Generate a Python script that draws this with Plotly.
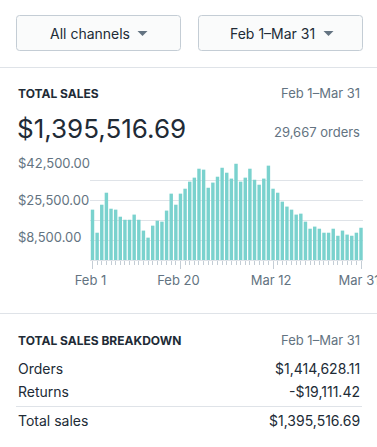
import pandas as pd
import plotly.graph_objects as go

W, H = 377, 447

# ---- data ----
dates = pd.date_range("2017-02-01", "2017-03-31", freq="D")
sales = [21400, 11600, 23500, 28600, 21800, 21400, 18400, 17100, 17100, 19300,
         17100, 12500, 9500, 14600, 16700, 16300, 21000, 28200, 23500, 28200,
         30300, 33300, 35000, 38800, 38400, 30700, 32900, 35400, 39200, 37100,
         34600, 40900, 33300, 35000, 38800, 34100, 32000, 34600, 40100, 30300,
         28600, 24800, 22700, 21400, 19300, 19700, 16300, 13300, 14200, 13300,
         11600, 11600, 13300, 10300, 12500, 10800, 10300, 11600, 13700]
grid_vals = [0, 8500, 17000, 25500, 34000, 42500]
ylabel_vals = [8500, 25500, 42500]
ylabel_text = ["$8,500.00", "$25,500.00", "$42,500.00"]
xtick_vals = ["2017-02-01", "2017-02-20", "2017-03-12", "2017-03-31"]
xtick_text = ["Feb 1", "Feb 20", "Mar 12", "Mar 31"]
channel_label = "All channels"
period_label = "Feb 1–Mar 31"
total_sales = "$1,395,516.69"
order_count = "29,667 orders"
breakdown_rows = ["Orders", "Returns", "Total sales"]
breakdown_vals = ["$1,414,628.11", "-$19,111.42", "$1,395,516.69"]

DARK = "#212b36"
GRAY = "#637381"
LINE = "#dfe3e8"
BORDER = "#c4cdd5"
BAR = "#7ad2ce"
FONT = "Inter"


def X(px):
    return px / W


def Y(py):
    return 1 - py / H


fig = go.Figure()
fig.add_trace(go.Bar(
    x=dates, y=sales, marker_color=BAR, marker_line_width=0,
    width=0.74 * 86400000, hoverinfo="skip"))

fig.update_layout(
    width=W, height=H,
    margin=dict(l=0, r=0, t=0, b=0, pad=0, autoexpand=False),
    paper_bgcolor="white", plot_bgcolor="white", showlegend=False,
    font=dict(family=FONT, color=DARK),
    xaxis=dict(
        domain=[X(90), X(363)], type="date",
        range=["2017-01-31 11:00", "2017-03-31 10:20"],
        tickvals=xtick_vals, ticktext=xtick_text,
        ticks="outside", ticklen=8, tickcolor=BORDER, tickwidth=1,
        tickfont=dict(family=FONT, size=13, color=GRAY),
        ticklabeloverflow="allow", ticklabelshift=-2, automargin=False,
        minor=dict(ticks="outside", ticklen=4, tickcolor=BORDER,
                   dtick=86400000, tick0="2017-02-01", showgrid=False),
        showgrid=False, zeroline=False, showline=False, fixedrange=True),
    yaxis=dict(
        domain=[Y(260), Y(160)], range=[0, 42500],
        tickvals=grid_vals, showticklabels=False, automargin=False,
        gridcolor=LINE, gridwidth=1, zeroline=True, zerolinecolor=LINE,
        zerolinewidth=1, showline=False, fixedrange=True),
)

shapes = []


def rrect(x0, y0, x1, y1, r):
    pts = [
        f"M{X(x0 + r)},{Y(y0)}", f"L{X(x1 - r)},{Y(y0)}",
        f"Q{X(x1)},{Y(y0)} {X(x1)},{Y(y0 + r)}", f"L{X(x1)},{Y(y1 - r)}",
        f"Q{X(x1)},{Y(y1)} {X(x1 - r)},{Y(y1)}", f"L{X(x0 + r)},{Y(y1)}",
        f"Q{X(x0)},{Y(y1)} {X(x0)},{Y(y1 - r)}", f"L{X(x0)},{Y(y0 + r)}",
        f"Q{X(x0)},{Y(y0)} {X(x0 + r)},{Y(y0)}", "Z"]
    return " ".join(pts)


for bx0, bx1 in [(16.5, 180.5), (198.5, 362.5)]:
    shapes.append(dict(type="path", xref="paper", yref="paper",
                       path=rrect(bx0, 15.5, bx1, 50.5, 3),
                       fillcolor="#fafbfb", line=dict(color=BORDER, width=1)))

for ax in [142.5, 328.5]:
    shapes.append(dict(type="path", xref="paper", yref="paper",
                       path=f"M{X(ax - 5)},{Y(31)} L{X(ax + 5)},{Y(31)} L{X(ax)},{Y(36)} Z",
                       fillcolor=GRAY, line=dict(width=0)))

for (lx0, lx1, ly) in [(0, W, 67.5), (0, W, 313.5), (16, 362, 406.5)]:
    shapes.append(dict(type="line", xref="paper", yref="paper",
                       x0=X(lx0), x1=X(lx1), y0=Y(ly), y1=Y(ly),
                       line=dict(color=LINE, width=1)))

fig.update_layout(shapes=shapes)

ann = []


def text(t, x, y, size, color=DARK, anchor="left", bold=False):
    ann.append(dict(text=f"<b>{t}</b>" if bold else t, x=X(x), y=Y(y),
                    xref="paper", yref="paper", xanchor=anchor, yanchor="middle",
                    showarrow=False,
                    font=dict(family=FONT, size=size, color=color)))


text(channel_label, 89.5, 33, 14, DARK, "center")
text(period_label, 272, 33, 14, DARK, "center")
text("TOTAL SALES", 16, 93, 12, DARK, bold=True)
text(period_label, 362, 93, 13, GRAY, "right")
text(total_sales, 15, 128, 26, DARK)
text(order_count, 362, 132, 13, GRAY, "right")
text("TOTAL SALES BREAKDOWN", 16, 340, 12, DARK, bold=True)
text(period_label, 362, 340, 13, GRAY, "right")
for i, (lab, val) in enumerate(zip(breakdown_rows, breakdown_vals)):
    yy = [368, 391.5, 420.5][i]
    text(lab, 16, yy, 14, DARK)
    text(val, 362, yy, 14, DARK, "right")

for v, t, sh in zip(ylabel_vals, ylabel_text, [3, 0, -3]):
    ann.append(dict(text=t, x=X(16), y=v, xref="paper", yref="y", yshift=sh,
                    xanchor="left", yanchor="middle", showarrow=False,
                    font=dict(family=FONT, size=13, color=GRAY)))

fig.update_layout(annotations=ann)

fig.write_html("out.html", config={"displayModeBar": False, "staticPlot": True},
               post_script="document.body.style.margin='0';")
